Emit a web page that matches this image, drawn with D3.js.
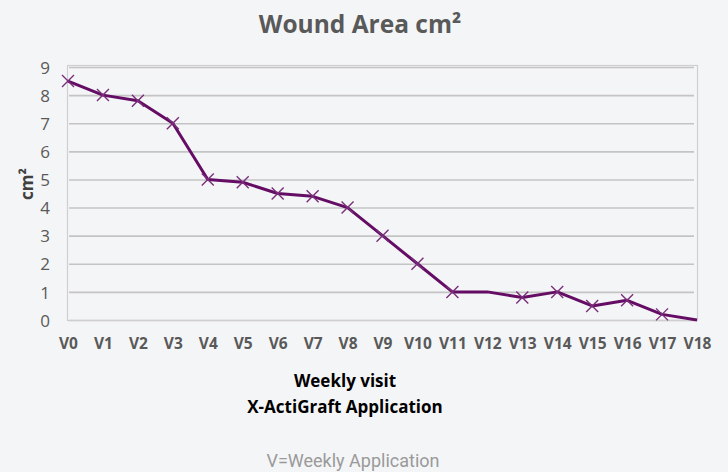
<!DOCTYPE html>
<html><head><meta charset="utf-8">
<script src="https://cdn.jsdelivr.net/npm/d3@7"></script>
<style>
html,body{margin:0;padding:0;background:#f4f5f7;}
svg{display:block;}
</style></head>
<body>
<svg id="c" width="728" height="472"></svg>
<script>
const categories = ["V0","V1","V2","V3","V4","V5","V6","V7","V8","V9","V10","V11","V12","V13","V14","V15","V16","V17","V18"];
const values = [8.5,8.0,7.8,7.0,5.0,4.9,4.5,4.4,4.0,3.0,2.0,1.0,1.0,0.8,1.0,0.5,0.7,0.2,0.0];
const hasMarker = [1,1,1,1,1,1,1,1,1,1,1,1,0,1,1,1,1,1,0];
const yTicks = [0,1,2,3,4,5,6,7,8,9];

const svg = d3.select("#c");
const L = 68, R = 697, T = 67, B = 320;
const x = d3.scalePoint().domain(categories).range([L, R]);
const y = d3.scaleLinear().domain([0, 9]).range([B, T]);

// gridlines
svg.append("g").selectAll("line").data(yTicks).join("line")
  .attr("x1", L + 1).attr("x2", R - 3)
  .attr("y1", d => y(d) + 0.5).attr("y2", d => y(d) + 0.5)
  .attr("stroke", "#c4c4c4").attr("stroke-width", 1.6);
// plot border
svg.append("rect").attr("x", L - 0.5).attr("y", T - 1.5).attr("width", R - L + 1).attr("height", B - T + 2)
  .attr("fill", "none").attr("stroke", "#cfcfcf").attr("stroke-width", 1.2);

// y axis labels
const yAxis = d3.axisLeft(y).tickValues(yTicks).tickSize(0).tickPadding(18);
const gy = svg.append("g").attr("transform", `translate(${L},0)`).call(yAxis);
gy.select(".domain").remove();
gy.selectAll("text").attr("font-family", "Open Sans, sans-serif").attr("font-size", 17)
  .attr("fill", "#595959").attr("dy", "0.36em");

// x axis labels
const xAxis = d3.axisBottom(x).tickSize(0).tickPadding(18);
const gx = svg.append("g").attr("transform", `translate(0,${B})`).call(xAxis);
gx.select(".domain").remove();
gx.selectAll("text").attr("font-family", "Open Sans, sans-serif").attr("font-size", 15.5)
  .attr("font-weight", "bold").attr("fill", "#595959");

// line
const line = d3.line().x((d, i) => x(categories[i])).y(d => y(d));
svg.append("path").datum(values).attr("d", line)
  .attr("fill", "none").attr("stroke", "#650d65").attr("stroke-width", 3).attr("stroke-linejoin", "round");

// markers
const ms = 6;
svg.append("g").selectAll("path")
  .data(values.map((v, i) => ({v, i})).filter(d => hasMarker[d.i]))
  .join("path")
  .attr("d", d => {
    const cx = x(categories[d.i]), cy = y(d.v);
    return `M${cx-ms},${cy-ms}L${cx+ms},${cy+ms}M${cx-ms},${cy+ms}L${cx+ms},${cy-ms}`;
  })
  .attr("stroke", "#7a2f7a").attr("stroke-width", 1.4).attr("fill", "none");

// title
svg.append("text").attr("x", 360).attr("y", 33).attr("text-anchor", "middle")
  .attr("font-family", "Open Sans, sans-serif").attr("font-weight", "bold").attr("font-size", 24.5)
  .attr("fill", "#595959")
  .text("Wound Area cm²");

// y title
svg.append("text").attr("transform", "translate(33,184) rotate(-90)").attr("text-anchor", "middle")
  .attr("font-family", "Open Sans, sans-serif").attr("font-weight", "bold").attr("font-size", 17)
  .attr("fill", "#404040").text("cm²");

// x title
svg.append("text").attr("x", 345).attr("y", 387).attr("text-anchor", "middle")
  .attr("font-family", "Open Sans, sans-serif").attr("font-weight", "bold").attr("font-size", 17)
  .attr("fill", "#000").text("Weekly visit");
svg.append("text").attr("x", 345).attr("y", 413).attr("text-anchor", "middle")
  .attr("font-family", "Open Sans, sans-serif").attr("font-weight", "bold").attr("font-size", 17)
  .attr("fill", "#000").text("X-ActiGraft Application");

// footer
svg.append("text").attr("x", 353).attr("y", 467).attr("text-anchor", "middle")
  .attr("font-family", "Roboto, sans-serif").attr("font-size", 18)
  .attr("fill", "#9a9a9a").text("V=Weekly Application");
</script>
</body></html>
